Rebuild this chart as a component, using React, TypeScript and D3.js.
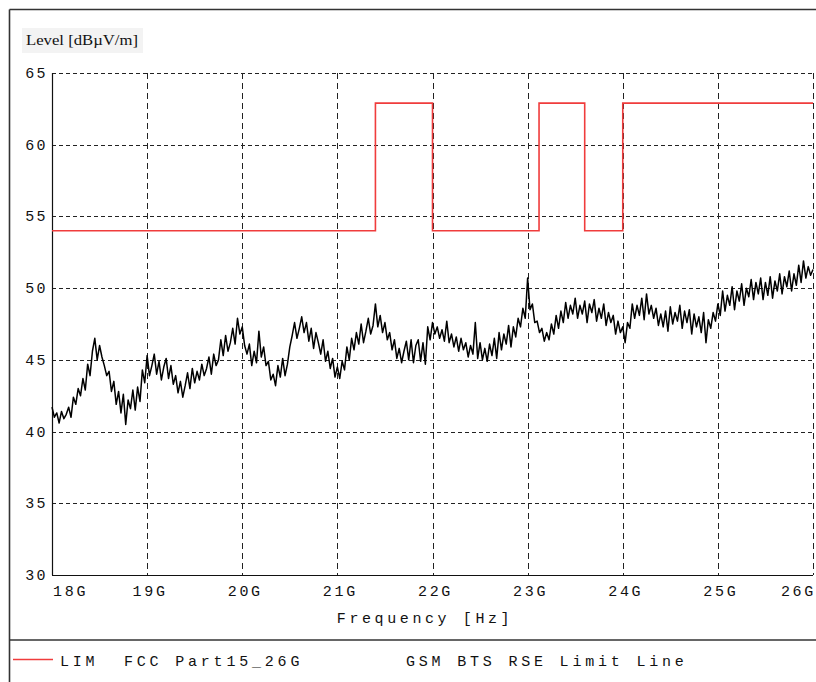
import React from "react";
import * as d3 from "d3";

// ---- data ----
const freqStart = 18.0; // GHz
const freqStep = 0.025; // GHz sweep step
const levels: number[] = [
  41.7, 41.0, 41.3, 40.6, 41.4, 40.9, 41.2, 41.7, 41.0, 42.4, 41.9, 43.0, 42.5, 43.7, 42.9, 44.7, 43.9, 45.6, 46.5, 45.0,
  46.0, 45.2, 44.6, 43.9, 44.2, 42.8, 43.5, 41.9, 42.8, 41.3, 42.6, 40.5, 42.2, 41.6, 42.9, 41.5, 43.1, 42.1, 44.3, 43.4,
  45.3, 43.9, 44.6, 45.4, 44.0, 44.9, 43.6, 44.5, 45.1, 43.7, 44.6, 43.3, 43.9, 42.7, 43.5, 42.4, 43.2, 44.1, 43.0, 44.4,
  43.4, 44.2, 43.6, 44.7, 43.9, 44.4, 45.2, 44.0, 45.4, 44.6, 45.0, 46.4, 45.3, 46.7, 45.6, 46.2, 47.2, 46.1, 47.9, 46.8,
  47.3, 46.0, 45.4, 46.1, 44.6, 45.6, 44.8, 47.0, 45.2, 45.9, 44.6, 44.9, 43.6, 44.0, 43.2, 44.6, 43.8, 45.1, 43.9, 44.7,
  45.9, 46.7, 47.6, 46.5, 47.2, 48.0, 46.9, 47.6, 46.3, 47.2, 45.8, 46.9, 46.2, 45.4, 46.4, 44.9, 45.6, 44.4, 45.1, 43.8,
  44.5, 43.7, 44.9, 44.3, 45.9, 45.0, 46.5, 45.7, 46.9, 46.1, 47.5, 46.2, 47.0, 47.9, 46.8, 47.4, 48.9, 47.3, 48.1, 46.9,
  47.6, 46.4, 46.9, 45.7, 46.4, 45.1, 45.8, 44.8, 45.6, 46.3, 45.0, 46.4, 44.8, 46.0, 46.4, 44.9, 46.2, 44.7, 47.3, 46.4,
  47.6, 46.8, 47.3, 46.5, 47.1, 46.3, 47.7, 46.2, 46.8, 45.9, 46.6, 45.6, 46.5, 45.7, 46.2, 45.2, 46.0, 45.4, 47.6, 45.1,
  46.2, 45.0, 45.8, 44.9, 46.1, 45.3, 46.5, 45.1, 46.9, 45.7, 46.8, 46.1, 47.4, 45.9, 47.3, 46.6, 47.9, 47.3, 48.6, 47.9,
  50.7, 48.5, 48.9, 47.6, 47.7, 46.9, 47.2, 46.3, 46.9, 46.4, 47.5, 46.8, 48.1, 47.2, 48.4, 47.6, 49.0, 47.9, 48.8, 48.2,
  49.3, 47.9, 48.8, 48.2, 49.1, 47.6, 48.9, 48.3, 49.2, 47.7, 48.6, 47.9, 48.9, 47.4, 48.3, 47.6, 48.1, 46.8, 47.7, 46.9,
  47.3, 46.2, 47.6, 47.2, 48.9, 47.9, 48.8, 48.1, 49.3, 47.8, 49.6, 48.2, 48.8, 47.9, 48.6, 47.4, 48.2, 47.3, 48.4, 47.0,
  48.7, 47.5, 48.3, 47.7, 48.8, 47.2, 48.4, 47.6, 48.5, 46.8, 48.2, 47.3, 48.0, 46.9, 48.3, 46.2, 47.8, 47.2, 48.3, 47.7,
  48.9, 48.1, 49.8, 48.4, 49.5, 48.8, 50.1, 48.5, 49.8, 49.1, 50.3, 48.8, 50.0, 49.4, 50.6, 49.2, 50.4, 49.6, 50.7, 49.2,
  50.4, 49.5, 50.8, 49.3, 50.5, 49.8, 51.0, 49.6, 50.8, 50.1, 51.2, 49.8, 51.0, 50.2, 51.6, 50.4, 51.9, 50.7, 51.5, 50.9,
  51.3,
];

const limitFreq = [18.0, 21.4, 22.0, 23.12, 23.6, 24.0, 26.0];
const limitLevel = [54, 62.9, 54, 62.9, 54, 62.9, 62.9];

const xTicks = [18, 19, 20, 21, 22, 23, 24, 25, 26];
const xTickLabels = ["18G", "19G", "20G", "21G", "22G", "23G", "24G", "25G", "26G"];
const yTicks = [30, 35, 40, 45, 50, 55, 60, 65];

const yTitle = "Level [dBµV/m]";
const xTitle = "Frequency [Hz]";
const legendName = "LIM  FCC Part15_26G";
const legendDesc = "GSM BTS RSE Limit Line";

export default function App() {
  const W = 816;
  const H = 682;
  const x = d3.scaleLinear().domain([18, 26]).range([52, 813]);
  const y = d3.scaleLinear().domain([30, 65]).range([575, 73]);

  const traceData = levels.map((v, i) => [freqStart + i * freqStep, v] as [number, number]);
  const trace = d3
    .line<[number, number]>()
    .x((d) => x(d[0]))
    .y((d) => y(d[1]))(traceData);

  const limData = limitFreq.map((f, i) => [f, limitLevel[i]] as [number, number]);
  const limit = d3
    .line<[number, number]>()
    .x((d) => x(d[0]))
    .y((d) => y(d[1]))
    .curve(d3.curveStepAfter)(limData);

  const mono = "'Liberation Mono', 'DejaVu Sans Mono', monospace";
  const dash = "4,3";
  const gridColor = "#222";

  return (
    <svg
      width={W}
      height={H}
      style={{ position: "absolute", left: 0, top: 0, background: "#fff" }}
    >
      {/* outer frame */}
      <line x1={9.5} y1={9.5} x2={W} y2={9.5} stroke="#333" strokeWidth={1.6} />
      <line x1={9.5} y1={9.5} x2={9.5} y2={H} stroke="#333" strokeWidth={1.6} />
      <line x1={9.5} y1={640} x2={W} y2={640} stroke="#333" strokeWidth={1.6} />

      {/* y title */}
      <rect x={22} y={28} width={121} height={25} fill="#f3f3f3" />
      <text
        x={26}
        y={45}
        fontFamily="'Liberation Serif', 'DejaVu Serif', serif"
        fontSize={14}
        fill="#111"
        textLength={112}
        lengthAdjust="spacingAndGlyphs"
      >
        {yTitle}
      </text>

      {/* horizontal grid */}
      {yTicks.map((t) =>
        t === 30 ? null : (
          <line
            key={"h" + t}
            x1={x(18)}
            x2={x(26)}
            y1={Math.round(y(t)) + 0.5}
            y2={Math.round(y(t)) + 0.5}
            stroke={gridColor}
            strokeWidth={1}
            strokeDasharray={dash}
          />
        )
      )}
      {/* vertical grid */}
      {xTicks.map((t) =>
        t === 18 ? null : (
          <line
            key={"v" + t}
            x1={Math.round(x(t)) + 0.5}
            x2={Math.round(x(t)) + 0.5}
            y1={y(65)}
            y2={y(30)}
            stroke={gridColor}
            strokeWidth={1}
            strokeDasharray={"6,4"}
          />
        )
      )}
      {/* solid axes */}
      <line x1={x(18) + 0.5} x2={x(18) + 0.5} y1={y(65)} y2={y(30)} stroke="#111" strokeWidth={1.2} />
      <line x1={x(18)} x2={x(26)} y1={y(30) + 0.5} y2={y(30) + 0.5} stroke="#111" strokeWidth={1.2} />

      {/* y tick labels */}
      {yTicks.map((t) => (
        <text
          key={"yl" + t}
          x={48}
          y={y(t) + 5}
          textAnchor="end"
          fontFamily={mono}
          fontSize={15}
          letterSpacing={2.4}
          fill="#111"
        >
          {String(t)}
        </text>
      ))}

      {/* x tick labels */}
      {xTicks.map((t, i) => {
        const last = i === xTicks.length - 1;
        const first = i === 0;
        const anchor = first ? "start" : last ? "end" : "middle";
        const px = first ? x(t) + 1 : last ? 816 : x(t) + 3;
        return (
          <text
            key={"xl" + t}
            x={px}
            y={596}
            textAnchor={anchor}
            fontFamily={mono}
            fontSize={15}
            letterSpacing={2.7}
            fill="#111"
          >
            {xTickLabels[i]}
          </text>
        );
      })}

      {/* x title */}
      <text
        x={425}
        y={623}
        textAnchor="middle"
        fontFamily={mono}
        fontSize={15}
        letterSpacing={3.6}
        fill="#111"
      >
        {xTitle}
      </text>

      {/* limit line */}
      <path d={limit || ""} fill="none" stroke="#f03c3c" strokeWidth={1.6} />

      {/* measured trace */}
      <path d={trace || ""} fill="none" stroke="#000" strokeWidth={1.5} strokeLinejoin="round" />

      {/* legend */}
      <line x1={13} x2={53} y1={659.5} y2={659.5} stroke="#f03c3c" strokeWidth={1.5} />
      <text x={60} y={666} fontFamily={mono} fontSize={15} letterSpacing={3.8} fill="#111" style={{ whiteSpace: "pre" }}>
        {legendName}
      </text>
      <text x={406} y={666} fontFamily={mono} fontSize={15} letterSpacing={3.8} fill="#111" style={{ whiteSpace: "pre" }}>
        {legendDesc}
      </text>
    </svg>
  );
}
